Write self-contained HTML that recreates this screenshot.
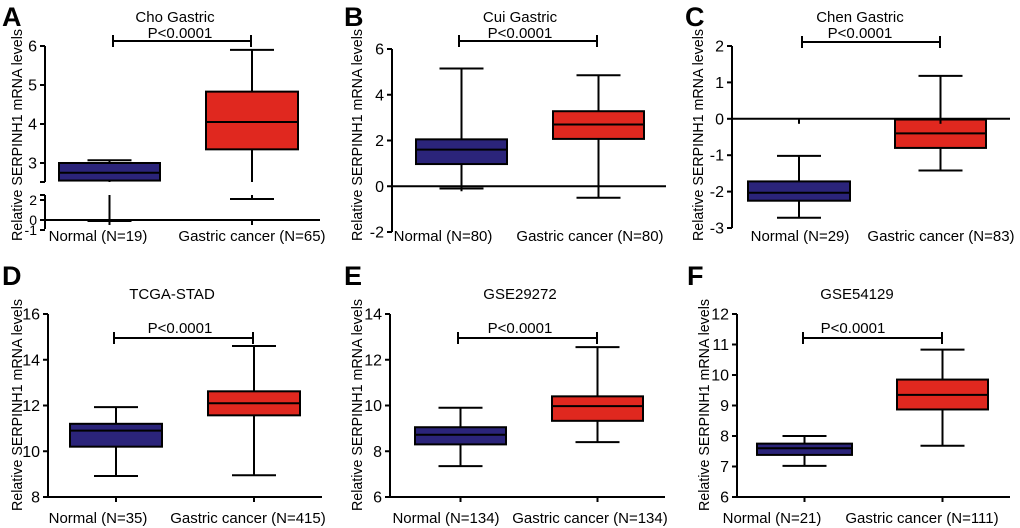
<!DOCTYPE html>
<html><head><meta charset="utf-8"><style>
html,body{margin:0;padding:0;background:#fff;}
svg{display:block;font-family:"Liberation Sans",Arial,sans-serif;}
</style></head><body>
<svg id="fig" width="1020" height="528" viewBox="0 0 1020 528"></svg>
<script>
// ---- data ----
const groups = ["Normal", "Gastric cancer"];
const panelLetters = ["A","B","C","D","E","F"];
const panelTitles = ["Cho Gastric","Cui Gastric","Chen Gastric","TCGA-STAD","GSE29272","GSE54129"];
const groupNs = [[19,65],[80,80],[29,83],[35,415],[134,134],[21,111]];
const pLabel = "P<0.0001";
// box stats: [min, q1, median, q3, max]
const statsA = [[-0.1,2.55,2.75,3.0,3.07],[2.1,3.35,4.05,4.83,5.9]];
const statsB = [[-0.1,0.97,1.6,2.05,5.15],[-0.5,2.07,2.7,3.28,4.85]];
const statsC = [[-2.72,-2.25,-2.03,-1.72,-1.02],[-1.42,-0.8,-0.4,-0.02,1.18]];
const statsD = [[8.92,10.2,10.9,11.2,11.93],[8.95,11.57,12.1,12.62,14.6]];
const statsE = [[7.35,8.3,8.72,9.05,9.9],[8.4,9.33,9.97,10.4,12.55]];
const statsF = [[7.02,7.38,7.6,7.75,8.0],[7.68,8.87,9.35,9.85,10.83]];
const ticksAUpper = [3,4,5,6];
const ticksALower = [-1,0,2];
const ticksB = [-2,0,2,4,6];
const ticksC = [-3,-2,-1,0,1,2];
const ticksD = [8,10,12,14,16];
const ticksE = [6,8,10,12,14];
const ticksF = [6,7,8,9,10,11,12];

const NS="http://www.w3.org/2000/svg";
const svg=document.getElementById('fig');
const BLUE="#2b247a", RED="#e0281f";
function mk(tag,attrs,parent){const e=document.createElementNS(NS,tag);for(const k in attrs)e.setAttribute(k,attrs[k]);(parent||svg).appendChild(e);return e;}
function txt(s,x,y,size,anchor,parent,weight){const t=mk('text',{x:x,y:y,'font-size':size,'text-anchor':anchor||'middle',fill:'#000'},parent);if(weight)t.setAttribute('font-weight',weight);t.textContent=s;return t;}
function line(x1,y1,x2,y2,g,w){return mk('line',{x1:x1,y1:y1,x2:x2,y2:y2,stroke:'#000','stroke-width':w||2},g);}
function linScale(v0,y0,v1,y1){return v=>y0+(v-v0)*(y1-y0)/(v1-v0);}

const panels=[
 {stats:statsA,ticks:null,ax:45,yTop:46,yBot:229,xEnd:320,base:0,
  boxes:[[59,160],[206,298]],labX:[98,252],labY:241,title:[175,22],p:[180,38],pbar:[41,113,251],letter:[2,26],ylab:[17,135],
  broken:true},
 {stats:statsB,ticks:ticksB,ax:392,y:linScale(6,49,-2,232),yTop:49,yBot:232,xEnd:666,base:0,
  boxes:[[416,507],[553,644]],labX:[443,590],labY:241,title:[520,22],p:[520,38],pbar:[41,459,597],letter:[344,26],ylab:[357,135]},
 {stats:statsC,ticks:ticksC,ax:732,y:linScale(2,46,-3,228),yTop:46,yBot:228,xEnd:1010,base:0,
  boxes:[[748,850],[895,986]],labX:[800,941],labY:241,title:[860,22],p:[860,38],pbar:[42,802,940],letter:[685,26],ylab:[698,135]},
 {stats:statsD,ticks:ticksD,ax:48,y:linScale(16,314,8,497),yTop:314,yBot:497,xEnd:322,base:8,
  boxes:[[70,162],[208,300]],labX:[98,248],labY:523,title:[172,299],p:[180,333],pbar:[338,114,253],letter:[2,285],ylab:[17,405]},
 {stats:statsE,ticks:ticksE,ax:390,y:linScale(14,314,6,497),yTop:314,yBot:497,xEnd:665,base:6,
  boxes:[[415,506],[552,643]],labX:[446,590],labY:523,title:[520,299],p:[520,333],pbar:[338,458,597],letter:[344,285],ylab:[357,405]},
 {stats:statsF,ticks:ticksF,ax:737,y:linScale(12,314,6,497),yTop:314,yBot:497,xEnd:1010,base:6,
  boxes:[[757,852],[897,988]],labX:[772,922],labY:523,title:[857,299],p:[853,333],pbar:[338,803,942],letter:[687,285],ylab:[704,405]}
];

const yAup=linScale(3,163,6,46), yAlo=linScale(0,220,2,200);
const A_BREAK_UP=182, A_BREAK_LO=195, A_SPLIT=2.5;
panels[0].y=v=>v>=A_SPLIT?yAup(v):yAlo(v);

panels.forEach((P,pi)=>{
  const g=mk('g',{});
  
  
  const L=txt(panelLetters[pi],P.letter[0],P.letter[1],27,'start',g,'bold');
  
  const T=txt(panelTitles[pi],P.title[0],P.title[1],15,'middle',g);
  
  const Pt=txt(pLabel,P.p[0],P.p[1],15,'middle',g);
  
  const [by,bx1,bx2]=P.pbar;
  line(bx1,by,bx2,by,g);line(bx1,by-6,bx1,by+6,g);line(bx2,by-6,bx2,by+6,g);
  const yl=mk('text',{x:0,y:0,'font-size':15,'text-anchor':'middle',transform:`translate(${P.ylab[0]+5},${P.ylab[1]}) rotate(-90)`,textLength:212,lengthAdjust:'spacingAndGlyphs'},g);
  yl.textContent="Relative SERPINH1 mRNA levels";
  
  const ax=P.ax;
  if(P.broken){
    line(ax,P.yTop,ax,A_BREAK_UP,g);line(ax-5,A_BREAK_UP,ax,A_BREAK_UP,g);
    line(ax,A_BREAK_LO,ax,P.yBot,g);line(ax-5,A_BREAK_LO,ax,A_BREAK_LO,g);
    ticksAUpper.forEach(t=>{const y=yAup(t);line(ax-5,y,ax,y,g);const tt=txt(String(t),ax-8,y+5.5,16,'end',g);});
    ticksALower.forEach(t=>{const y=yAlo(t);line(ax-5,y,ax,y,g);const tt=txt(String(t),ax-8,y+5,14,'end',g);});
  } else {
    line(ax,P.yTop,ax,P.yBot,g);
    P.ticks.forEach(t=>{const y=P.y(t);line(ax-5,y,ax,y,g);const tt=txt(String(t),ax-8,y+5.5,16,'end',g);});
  }
  const by0=P.y(P.base);
  const xa=line(ax,by0,P.xEnd,by0,g);
  
  P.stats.forEach((s,gi)=>{
    const [x1,x2]=P.boxes[gi];const cx=(x1+x2)/2;const cw=22;
    const bg=mk('g',{},g);
    
    
    const [mn,q1,md,q3,mx]=s;
    const wseg=(a,b)=>{
      if(P.broken && ((a<A_SPLIT)!==(b<A_SPLIT))){
        const hi=Math.max(a,b),lo=Math.min(a,b);
        line(cx,P.y(hi),cx,A_BREAK_UP,bg);line(cx,A_BREAK_LO,cx,P.y(lo),bg);
      } else line(cx,P.y(a),cx,P.y(b),bg);
    };
    wseg(q3,mx);wseg(mn,q1);
    line(cx-cw,P.y(mx),cx+cw,P.y(mx),bg);
    line(cx-cw,P.y(mn),cx+cw,P.y(mn),bg);
    mk('rect',{x:x1,y:P.y(q3),width:x2-x1,height:P.y(q1)-P.y(q3),fill:gi===0?BLUE:RED,stroke:'#000','stroke-width':2},bg);
    line(x1,P.y(md),x2,P.y(md),bg);
    line(cx,by0,cx,by0+5,g);
    const lab=txt(`${groups[gi]} (N=${groupNs[pi][gi]})`,P.labX[gi],P.labY,15,'middle',g);
    
  });
});
</script>
</body></html>
